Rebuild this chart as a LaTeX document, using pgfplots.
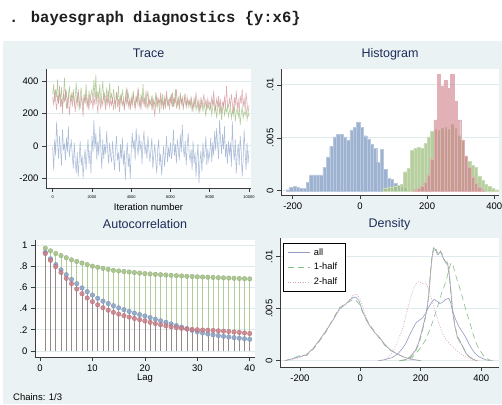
\documentclass[border=0pt]{standalone}
\usepackage{pgfplots}
\pgfplotsset{compat=1.18}
\usepackage{fontspec}
\setmainfont{Liberation Sans}
\newfontfamily\cmdfont{Liberation Mono}
\definecolor{panelc}{RGB}{234,242,243}
\definecolor{gridc}{RGB}{222,234,236}
\definecolor{axc}{RGB}{60,60,60}
\definecolor{titc}{RGB}{30,45,90}
\definecolor{cblue}{RGB}{140,165,200}
\definecolor{cred}{RGB}{205,125,135}
\definecolor{cgreen}{RGB}{165,195,135}
\definecolor{dall}{RGB}{150,155,195}
\definecolor{dhalfa}{RGB}{135,190,135}
\definecolor{dhalfb}{RGB}{215,165,185}
\pgfplotsset{
 stata/.style={
  scale only axis,
  anchor=south west,
  axis background/.style={fill=white},
  axis x line*=bottom, axis y line*=left,
  axis line style={draw=axc, line width=0.6pt, -},
  tick align=outside, major tick length=4pt,
  every tick/.style={draw=axc, line width=0.6pt},
  minor tick num=0,
  ymajorgrids,
  grid style={draw=gridc, line width=0.8pt},
  tick label style={font=\fontsize{9.5}{11}\selectfont},
  title style={font=\fontsize{12.5}{14}\selectfont, color=titc, at={(0.5,1)}, anchor=base, yshift=5pt},
  xlabel style={font=\fontsize{9.5}{11}\selectfont, at={(axis description cs:0.5,0)}, anchor=base, yshift=-23pt},
  scaled ticks=false,
 }
}
\begin{document}
\begin{tikzpicture}
\useasboundingbox (0pt,0pt) rectangle (502pt,404pt);
\fill[white] (0pt,0pt) rectangle (502pt,404pt);
\fill[panelc] (3pt,0pt) rectangle (502pt,363pt);
\node[anchor=base west, inner sep=0pt, font=\cmdfont\bfseries\fontsize{15.5}{17}\selectfont, text={rgb,255:red,30;green,30;blue,30}] at (9pt,381pt) {. bayesgraph diagnostics \{y:x6\}};

% ---------------- Trace ----------------
\begin{axis}[stata, at={(46pt,216pt)}, width=205pt, height=119pt,
  xmin=-340, xmax=10100, ymin=-260, ymax=474,
  xtick={0,2000,4000,6000,8000,10000}, xticklabels={0,2000,4000,6000,8000,10000},
  xticklabel style={font=\fontsize{4}{5}\selectfont},
  ytick={-200,0,200,400}, yticklabels={-200,0,200,400},
  title={Trace}, xlabel={Iteration number}]
\addplot[cblue!85!white, line width=0.55pt, draw opacity=0.85] table[row sep=\\, header=false, x expr=\coordindex*50, y index=0] {
-10\\-150\\40\\-60\\150\\20\\-80\\60\\-30\\-120\\100\\-20\\10\\-90\\50\\-40\\120\\-70\\-10\\30\\
-60\\-140\\20\\-100\\-170\\-40\\-190\\-80\\30\\-120\\-60\\-200\\-90\\-20\\-150\\-50\\40\\-110\\-30\\-170\\
60\\-40\\160\\-20\\80\\-90\\30\\-60\\120\\-10\\-140\\40\\-80\\10\\-50\\90\\-30\\-110\\20\\-60\\
-100\\30\\-70\\-150\\-20\\60\\-90\\-40\\-160\\10\\-80\\50\\-120\\-30\\-210\\-60\\20\\-130\\-50\\-200\\
-40\\80\\-20\\40\\-90\\110\\0\\-60\\70\\-30\\30\\-110\\20\\90\\-50\\10\\-80\\60\\-20\\-100\\
-30\\50\\-140\\-60\\10\\-90\\-170\\-20\\40\\-120\\-50\\-180\\-80\\0\\-130\\-40\\60\\-100\\-10\\-70\\
20\\-80\\-30\\100\\-60\\10\\-110\\40\\-20\\-90\\70\\-40\\130\\-10\\-70\\30\\-120\\0\\80\\-50\\
-90\\-20\\-150\\30\\-110\\-40\\-190\\-70\\10\\-230\\-100\\-30\\-160\\20\\-80\\-50\\60\\-120\\-20\\-90\\
-40\\50\\-100\\20\\-60\\90\\-30\\110\\0\\-80\\160\\40\\-50\\70\\-20\\120\\-70\\10\\-110\\30\\
-60\\20\\-130\\150\\-20\\-90\\40\\-170\\-50\\10\\-120\\60\\-30\\-190\\-80\\100\\-40\\-150\\20\\-110\\-30\\
};
\addplot[cgreen, line width=0.55pt, draw opacity=0.85] table[row sep=\\, header=false, x expr=\coordindex*50, y index=0] {
320\\380\\270\\350\\300\\410\\260\\330\\290\\360\\240\\310\\420\\280\\340\\230\\300\\370\\270\\320\\
290\\350\\250\\310\\390\\270\\330\\220\\300\\360\\280\\240\\320\\260\\380\\290\\230\\340\\280\\310\\
350\\270\\410\\300\\440\\260\\340\\290\\380\\250\\320\\400\\280\\330\\240\\360\\300\\270\\390\\290\\
320\\260\\350\\290\\230\\330\\280\\370\\250\\310\\270\\340\\300\\220\\290\\360\\260\\320\\280\\240\\
300\\250\\340\\280\\230\\310\\260\\350\\290\\240\\320\\270\\380\\260\\300\\230\\290\\340\\250\\280\\
260\\310\\220\\280\\250\\330\\240\\290\\270\\200\\300\\260\\320\\240\\280\\230\\310\\270\\250\\290\\
270\\320\\240\\290\\260\\350\\230\\280\\300\\250\\330\\260\\290\\220\\310\\270\\250\\300\\240\\280\\
250\\290\\210\\270\\240\\300\\220\\260\\280\\200\\250\\230\\290\\210\\260\\240\\180\\270\\230\\250\\
220\\260\\190\\240\\280\\210\\250\\170\\230\\270\\200\\240\\160\\220\\260\\190\\230\\210\\250\\180\\
210\\240\\170\\220\\190\\260\\150\\210\\230\\180\\220\\130\\200\\240\\170\\210\\190\\230\\160\\200\\180\\
};
\addplot[cred!85!white, line width=0.55pt, draw opacity=0.75] table[row sep=\\, header=false, x expr=\coordindex*50, y index=0] {
300\\250\\340\\280\\220\\310\\260\\370\\240\\290\\200\\320\\270\\350\\230\\280\\310\\190\\260\\300\\
240\\330\\270\\210\\290\\250\\350\\280\\230\\310\\260\\180\\300\\270\\330\\240\\290\\220\\320\\260\\
280\\230\\300\\250\\340\\270\\200\\310\\260\\230\\290\\250\\320\\270\\220\\300\\260\\340\\240\\280\\
250\\300\\220\\280\\260\\330\\240\\290\\210\\270\\310\\250\\280\\230\\300\\260\\350\\240\\280\\220\\
290\\250\\320\\270\\230\\300\\260\\360\\240\\280\\220\\310\\260\\290\\240\\340\\270\\230\\300\\250\\
280\\230\\300\\250\\180\\270\\310\\240\\290\\260\\330\\240\\280\\220\\300\\260\\340\\250\\280\\230\\
300\\260\\330\\240\\290\\270\\350\\250\\280\\220\\310\\260\\300\\240\\270\\320\\230\\290\\260\\280\\
240\\300\\260\\220\\290\\250\\330\\270\\230\\280\\210\\300\\250\\270\\320\\240\\280\\230\\290\\250\\
270\\230\\300\\250\\340\\260\\220\\290\\250\\310\\240\\280\\200\\270\\250\\300\\230\\370\\260\\240\\
290\\240\\320\\260\\200\\300\\250\\340\\230\\280\\210\\310\\260\\350\\240\\290\\220\\330\\260\\200\\250\\
};
\end{axis}

% ---------------- Histogram ----------------
\begin{axis}[stata, at={(281pt,209pt)}, width=218pt, height=126pt,
  xmin=-235, xmax=414, ymin=-0.0004, ymax=0.0115,
  xtick={-200,0,200,400}, xticklabels={-200,0,200,400},
  ytick={0,0.005,0.01}, yticklabels={0,.005,.01},
  yticklabel style={rotate=90, anchor=south},
  title={Histogram}]
\addplot[ybar, bar width=10, bar shift=0pt, fill=cblue, fill opacity=0.85, draw=cblue!60!white, line width=0.3pt] coordinates {
(-215,0.0001) (-205,0.0003) (-195,0.0004) (-185,0.0003) (-175,0.0002) (-165,0.0002) (-155,0.0008) (-145,0.0015) (-135,0.0015) (-125,0.0015) (-115,0.0015) (-105,0.0022) (-95,0.0032) (-85,0.0042) (-75,0.0051) (-65,0.0053) (-55,0.0053) (-45,0.0051) (-35,0.0048) (-25,0.0057) (-15,0.0060) (-5,0.0065) (5,0.0060) (15,0.0052) (25,0.0049) (35,0.0044) (45,0.0040) (55,0.0027) (65,0.0039) (75,0.0020) (85,0.0012) (95,0.0011) (105,0.0007) (115,0.0005) (125,0.0003) (135,0.0002)
};
\addplot[ybar, bar width=10, bar shift=0pt, fill=cgreen, fill opacity=0.8, draw=cgreen!60!white, line width=0.3pt] coordinates {
(75,0.0002) (85,0.0003) (95,0.0003) (105,0.0004) (115,0.0005) (125,0.0006) (135,0.0018) (145,0.0021) (155,0.0038) (165,0.0040) (175,0.0041) (185,0.0040) (195,0.0045) (205,0.0051) (215,0.0056) (225,0.0058) (235,0.0057) (245,0.0059) (255,0.0060) (265,0.0058) (275,0.0063) (285,0.0059) (295,0.0052) (305,0.0048) (315,0.0033) (325,0.0028) (335,0.0024) (345,0.0022) (355,0.0014) (365,0.0010) (375,0.0006) (385,0.0004) (395,0.0002) (405,0.0001)
};
\addplot[ybar, bar width=10, bar shift=0pt, fill=cred, fill opacity=0.6, draw=cred!60!white, line width=0.3pt] coordinates {
(165,0.0001) (175,0.0002) (185,0.0004) (195,0.0008) (205,0.0015) (215,0.0030) (225,0.0067) (235,0.0110) (245,0.0099) (255,0.0104) (265,0.0097) (275,0.0110) (285,0.0085) (295,0.0067) (305,0.0048) (315,0.0033) (325,0.0022) (335,0.0013) (345,0.0007) (355,0.0003) (365,0.0001)
};
\end{axis}

% ---------------- Autocorrelation ----------------
\begin{axis}[stata, at={(35pt,47pt)}, width=220pt, height=117pt,
  xmin=-0.96, xmax=41, ymin=-0.057, ymax=1.047,
  xtick={0,10,20,30,40}, xticklabels={0,10,20,30,40},
  ytick={0,0.2,0.4,0.6,0.8,1}, yticklabels={0,.2,.4,.6,.8,1},
  title={Autocorrelation}, xlabel={Lag}]
\addplot[ycomb, draw=cgreen, draw opacity=0.85, line width=0.6pt, mark=*, mark size=2.3pt, mark options={fill=cgreen, draw=cgreen!85!black, line width=0.3pt, fill opacity=0.9, draw opacity=0.9}] table[row sep=\\, header=false, x expr=\coordindex+1, y index=0] {
.97\\.945\\.92\\.90\\.88\\.86\\.845\\.83\\.815\\.80\\.79\\.78\\.77\\.76\\.755\\.75\\.745\\.74\\.735\\.73\\
.727\\.723\\.72\\.717\\.714\\.711\\.708\\.705\\.703\\.70\\.698\\.696\\.694\\.692\\.69\\.688\\.686\\.684\\.682\\.68\\
};
\addplot[ycomb, draw=cblue!80!black, draw opacity=0.55, line width=0.6pt, mark=*, mark size=2.3pt, mark options={fill=cblue, draw=cblue!85!black, line width=0.3pt, fill opacity=0.9, draw opacity=0.9}] table[row sep=\\, header=false, x expr=\coordindex+1, y index=0] {
.93\\.87\\.815\\.765\\.72\\.675\\.635\\.595\\.56\\.527\\.497\\.47\\.448\\.427\\.407\\.39\\.373\\.357\\.343\\.33\\
.315\\.30\\.285\\.27\\.255\\.24\\.225\\.21\\.195\\.18\\.17\\.16\\.152\\.145\\.138\\.132\\.126\\.12\\.115\\.11\\
};
\addplot[ycomb, draw=cred!80!black, draw opacity=0.4, line width=0.6pt, mark=*, mark size=2.3pt, mark options={fill=cred, draw=cred!85!black, line width=0.3pt, fill opacity=0.85, draw opacity=0.9}] table[row sep=\\, header=false, x expr=\coordindex+1, y index=0] {
.92\\.855\\.795\\.74\\.685\\.635\\.585\\.54\\.50\\.465\\.435\\.408\\.385\\.365\\.348\\.333\\.32\\.307\\.295\\.283\\
.27\\.258\\.247\\.237\\.228\\.22\\.213\\.207\\.203\\.20\\.198\\.196\\.193\\.19\\.187\\.183\\.179\\.175\\.17\\.165\\
};
\end{axis}
\node[anchor=base west, font=\fontsize{9.5}{11}\selectfont, inner sep=0pt] at (13pt,4pt) {Chains: 1/3};

% ---------------- Density ----------------
\begin{axis}[stata, at={(280pt,37pt)}, width=219pt, height=129pt,
  xmin=-266, xmax=459, ymin=-0.0006, ymax=0.0118,
  xtick={-200,0,200,400}, xticklabels={-200,0,200,400},
  ytick={0,0.005,0.01}, yticklabels={0,.005,.01},
  yticklabel style={rotate=90, anchor=south},
  title={Density},
  legend cell align=left,
  legend image code/.code={\draw[#1] (0pt,0pt) -- (22pt,0pt);},
  legend style={at={(0.014,0.961)}, anchor=north west, draw=black, line width=0.5pt, fill=white, font=\fontsize{9.3}{11}\selectfont, inner xsep=4pt, inner ysep=3pt, row sep=2.5pt, nodes={inner xsep=4pt}}]
\addplot[dall, line width=0.6pt] coordinates {
(-250,0.0000) (-237,0.0001) (-200,0.0004) (-178,0.0006) (-156,0.0012) (-135,0.0020) (-113,0.0029) (-91,0.0039) (-69,0.0050) (-50,0.0054) (-35,0.0058) (-24,0.0061) (-15,0.0061) (-5,0.0058) (7,0.0048) (20,0.0039) (30,0.0034) (45,0.0028) (62,0.0023) (80,0.0016) (100,0.0010) (120,0.0007) (140,0.0004) (160,0.0002) (180,0.0001) (200,0.0000)
};
\addlegendentry{all}
\addplot[dhalfa, line width=0.6pt, dash pattern=on 6pt off 4pt] coordinates {
(-250,0.0000) (-230,0.0002) (-200,0.0005) (-178,0.0005) (-156,0.0011) (-135,0.0019) (-113,0.0028) (-91,0.0040) (-69,0.0051) (-50,0.0055) (-35,0.0057) (-24,0.0059) (-15,0.0058) (-5,0.0055) (7,0.0047) (20,0.0040) (30,0.0035) (45,0.0029) (62,0.0022) (80,0.0015) (100,0.0010) (120,0.0007) (140,0.0004) (160,0.0002) (180,0.0001) (200,0.0000)
};
\addlegendentry{1-half}
\addplot[dhalfb, line width=0.6pt, dash pattern=on 1pt off 1.5pt] coordinates {
(-250,0.0000) (-230,0.0001) (-200,0.0003) (-178,0.0006) (-156,0.0012) (-135,0.0020) (-113,0.0030) (-91,0.0039) (-69,0.0049) (-50,0.0054) (-35,0.0059) (-24,0.0063) (-12,0.0064) (-2,0.0060) (10,0.0050) (20,0.0041) (30,0.0035) (45,0.0028) (62,0.0022) (80,0.0016) (100,0.0011) (120,0.0007) (140,0.0004) (160,0.0002) (180,0.0001) (200,0.0000)
};
\addlegendentry{2-half}
% chain 2 (red)
\addplot[dall, line width=0.6pt, forget plot] coordinates {
(130,0) (150,0.0001) (165,0.0004) (183,0.0010) (195,0.0019) (205,0.0030) (215,0.0042) (222,0.0052) (228,0.0068) (233,0.0087) (238,0.0101) (243,0.0108) (249,0.0107) (254,0.0103) (258,0.0102) (262,0.0104) (266,0.0105) (271,0.0101) (277,0.0097) (283,0.0095) (288,0.0094) (292,0.0088) (296,0.0078) (301,0.0062) (306,0.0046) (313,0.0033) (321,0.0023) (330,0.0018) (337,0.0015) (345,0.0010) (350,0.0007) (360,0.0004) (370,0.0002) (385,0.0000)
};
\addplot[dhalfa, line width=0.6pt, dash pattern=on 6pt off 4pt, forget plot] coordinates {
(130,0) (150,0.0001) (165,0.0003) (183,0.0009) (195,0.0017) (205,0.0028) (215,0.0041) (222,0.0053) (228,0.0070) (233,0.0089) (238,0.0103) (244,0.0110) (250,0.0108) (255,0.0104) (260,0.0101) (265,0.0105) (270,0.0103) (277,0.0098) (283,0.0094) (288,0.0092) (292,0.0086) (296,0.0076) (301,0.0061) (306,0.0047) (313,0.0034) (321,0.0024) (330,0.0019) (337,0.0015) (345,0.0010) (352,0.0007) (360,0.0004) (372,0.0002) (385,0)
};
\addplot[dhalfb, line width=0.6pt, dash pattern=on 1pt off 1.5pt, forget plot] coordinates {
(130,0) (150,0.0001) (165,0.0004) (183,0.0011) (195,0.0020) (205,0.0031) (215,0.0043) (222,0.0051) (228,0.0066) (233,0.0085) (238,0.0099) (243,0.0106) (249,0.0106) (254,0.0102) (260,0.0103) (266,0.0106) (272,0.0100) (278,0.0096) (284,0.0096) (289,0.0095) (293,0.0089) (297,0.0079) (302,0.0063) (307,0.0045) (314,0.0032) (321,0.0022) (330,0.0017) (337,0.0014) (345,0.0010) (350,0.0007) (360,0.0004) (368,0.0002) (385,0)
};
% chain 3 (green)
\addplot[dall, line width=0.6pt, forget plot] coordinates {
(60,0) (80,0.0001) (105,0.0003) (125,0.0007) (140,0.0012) (151,0.0017) (165,0.0026) (183,0.0036) (195,0.0039) (205,0.0041) (215,0.0045) (227,0.0052) (236,0.0056) (244,0.0059) (255,0.0057) (263,0.0055) (271,0.0056) (282,0.0059) (293,0.0060) (299,0.0056) (304,0.0049) (315,0.0040) (326,0.0033) (337,0.0028) (348,0.0023) (360,0.0016) (370,0.0011) (380,0.0007) (392,0.0004) (414,0.0001) (430,0)
};
\addplot[dhalfa, line width=0.6pt, dash pattern=on 6pt off 4pt, forget plot] coordinates {
(130,0) (150,0.0001) (171,0.0003) (190,0.0009) (205,0.0015) (216,0.0020) (230,0.0030) (240,0.0038) (249,0.0046) (260,0.0056) (270,0.0066) (277,0.0071) (286,0.0079) (293,0.0088) (300,0.0094) (306,0.0093) (313,0.0085) (320,0.0078) (330,0.0069) (337,0.0062) (348,0.0050) (359,0.0040) (365,0.0034) (375,0.0024) (385,0.0016) (392,0.0012) (405,0.0006) (415,0.0003) (425,0.0001) (440,0)
};
\addplot[dhalfb, line width=0.6pt, dash pattern=on 1pt off 1.5pt, forget plot] coordinates {
(60,0) (80,0.0001) (96,0.0004) (110,0.0010) (125,0.0020) (139,0.0030) (150,0.0042) (161,0.0055) (172,0.0066) (183,0.0074) (192,0.0076) (200,0.0075) (208,0.0074) (216,0.0075) (227,0.0068) (238,0.0057) (249,0.0046) (260,0.0036) (271,0.0027) (282,0.0021) (293,0.0017) (304,0.0014) (315,0.0011) (330,0.0007) (348,0.0004) (370,0.0001) (390,0)
};
\end{axis}
\end{tikzpicture}
\end{document}
